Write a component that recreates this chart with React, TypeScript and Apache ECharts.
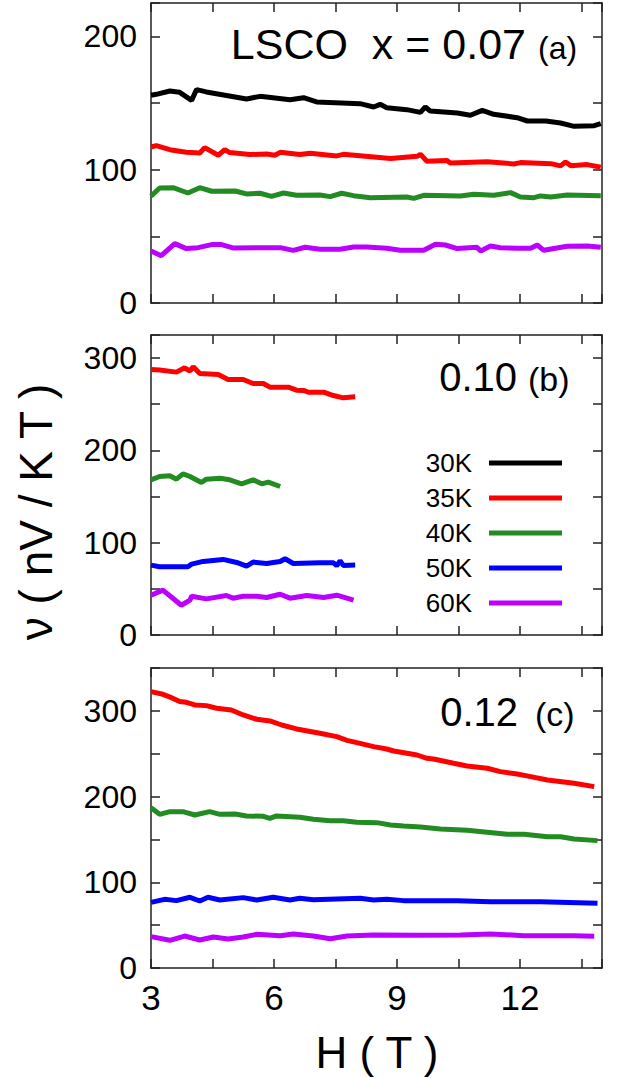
import React, { useEffect, useRef } from "react";
import * as echarts from "echarts";

const FONT = '"Liberation Sans", Arial, Helvetica, sans-serif';

const seriesNames = ["30K", "35K", "40K", "50K", "60K"];
const seriesColors = ["#000000", "#ff0000", "#228b22", "#0000ff", "#bb00ff"];

const panelLabels = ["LSCO  x = 0.07", "0.10", "0.12"];
const panelTags = ["(a)", "(b)", "(c)"];
const yMaxes = [225, 325, 350];
const xTickLabels = [3, 6, 9, 12];

// Panel (a) x = 0.07
const a30H = [3.0, 3.13, 3.46, 3.7, 3.99, 4.11, 4.35, 5.33, 5.66, 6.39, 6.72, 7.04, 8.1, 8.43, 8.59, 8.75, 9.24, 9.57, 9.69, 9.81, 10.47, 10.79, 11.08, 11.36, 11.93, 12.18, 12.63, 12.99, 13.32, 13.81, 13.97];
const a30V = [155.8, 156.5, 159, 158, 152, 160, 158.3, 153, 155, 152.5, 154, 150.8, 149.5, 147, 149, 146.5, 145, 143, 147, 144, 142.5, 140.8, 144.5, 141.5, 139, 136.5, 136.5, 135, 132.5, 133, 134.5];
const a35H = [3.0, 3.13, 3.46, 3.86, 4.19, 4.31, 4.64, 4.8, 4.92, 5.41, 5.82, 6.02, 6.15, 6.63, 6.88, 7.53, 7.69, 8.84, 9.49, 9.57, 9.73, 10.22, 10.3, 11.2, 11.85, 12.01, 12.75, 12.99, 13.11, 13.24, 13.64, 13.97];
const a35V = [117, 118, 115, 113, 112.5, 116.5, 110.8, 115, 112.8, 111.3, 111.8, 110.8, 113, 111.3, 112.3, 110.3, 111.5, 108.3, 110, 111.5, 106.3, 106.8, 105, 106, 104.3, 105.3, 104.5, 102.8, 105.8, 103, 103.8, 101.8];
const a40H = [3.0, 3.21, 3.54, 3.9, 4.19, 4.48, 5.05, 5.33, 5.66, 5.94, 6.23, 6.55, 7.12, 7.37, 7.65, 7.94, 8.35, 9.24, 9.41, 9.65, 10.55, 10.87, 11.36, 11.77, 12.01, 12.34, 12.5, 12.75, 13.15, 13.97];
const a40V = [80, 86.3, 86.5, 82.5, 86.5, 83.8, 84, 81.8, 82.3, 80, 82.5, 80.8, 81, 79.8, 82.3, 80.5, 79, 79.5, 78.5, 80.8, 80.3, 81.5, 80.8, 82.8, 79.5, 79, 80.3, 79.5, 81, 80.5];
const a60H = [3.0, 3.25, 3.58, 3.86, 4.15, 4.48, 4.72, 5.0, 6.15, 6.47, 6.76, 7.12, 7.61, 7.94, 8.26, 8.75, 9.08, 9.65, 9.94, 10.18, 10.47, 10.95, 11.04, 11.28, 11.52, 11.93, 12.26, 12.42, 12.58, 13.15, 13.64, 13.97];
const a60V = [39, 35.5, 44.5, 40.8, 41.5, 43.8, 43.8, 41.3, 41.5, 39.5, 41.8, 40.3, 40.3, 42, 42, 41, 39.5, 39.5, 44, 43.5, 40.8, 41.8, 39, 42.8, 41.5, 41, 41, 43.5, 39.5, 42.5, 42.8, 41.8];

// Panel (b) x = 0.10
const b35H = [3.0, 3.21, 3.62, 3.82, 3.95, 4.03, 4.19, 4.64, 4.88, 5.25, 5.49, 5.74, 5.9, 6.35, 6.55, 6.72, 6.84, 7.21, 7.45, 7.69, 7.98];
const b35V = [287.7, 287, 284.8, 289.5, 286, 290.6, 283.3, 282.2, 276.8, 276.8, 272.5, 272.5, 268.5, 268.5, 265.2, 264.9, 263, 263, 259.4, 256.9, 258];
const b40H = [3.0, 3.21, 3.46, 3.62, 3.78, 3.95, 4.23, 4.35, 4.68, 4.92, 5.21, 5.49, 5.7, 5.86, 6.15];
const b40V = [168, 171.7, 172.5, 168.8, 174.6, 171.7, 165.2, 168.8, 169.9, 168.1, 163.8, 168.1, 163.8, 165.6, 160.9];
const b50H = [3.0, 3.21, 3.62, 3.9, 3.99, 4.27, 4.76, 5.09, 5.33, 5.49, 5.82, 6.15, 6.27, 6.47, 7.12, 7.45, 7.53, 7.61, 7.69, 7.98];
const b50V = [75.7, 73.9, 73.9, 73.9, 76.8, 79.7, 81.9, 78.6, 74.6, 79, 77.5, 79.7, 82.6, 77.5, 78.3, 78.3, 75, 80.4, 75.4, 75.7];
const b60H = [3.0, 3.29, 3.54, 3.74, 3.95, 3.99, 4.35, 4.84, 5.0, 5.25, 5.58, 5.82, 6.15, 6.39, 6.8, 7.21, 7.53, 7.94];
const b60V = [43.1, 48.6, 39.5, 32.2, 37.7, 42, 39.1, 42.8, 39.9, 42, 42, 40.6, 44.2, 39.9, 42.8, 40.6, 43.1, 37.7];

// Panel (c) x = 0.12
const c35H = [3.0, 3.29, 3.5, 3.7, 3.86, 4.07, 4.35, 4.6, 4.96, 5.25, 5.58, 5.9, 6.19, 6.55, 7.12, 7.53, 7.78, 8.1, 8.43, 8.75, 8.92, 9.49, 9.73, 9.89, 10.38, 10.71, 11.2, 11.52, 11.93, 12.26, 12.67, 13.32, 13.81];
const c35V = [322.4, 319.3, 315.4, 310.8, 310, 306.9, 306.1, 303, 301, 295.2, 290.2, 288.2, 283.5, 278.9, 273.8, 269.9, 265.6, 262.1, 258.3, 255.5, 253.2, 248.5, 244.7, 243.9, 238.8, 235.7, 233, 229.1, 226.4, 223.3, 219.4, 215.5, 211.6];
const c40H = [3.0, 3.21, 3.46, 3.78, 4.07, 4.43, 4.68, 5.05, 5.33, 5.74, 5.9, 6.06, 6.63, 6.96, 7.37, 7.69, 8.02, 8.51, 8.84, 9.16, 9.57, 10.06, 10.71, 11.2, 11.69, 12.1, 12.67, 12.99, 13.32, 13.89];
const c40V = [187, 179.3, 182.4, 182.4, 178.5, 182.4, 179.3, 179.7, 177.4, 177, 174.6, 177.4, 175.8, 173.5, 171.9, 171.9, 170, 169.6, 166.9, 165.7, 164.5, 162.2, 160.6, 158.3, 156, 156, 153.2, 153.2, 150.5, 148.6];
const c50H = [3.0, 3.33, 3.62, 3.95, 4.19, 4.39, 4.68, 5.25, 5.58, 5.98, 6.39, 6.63, 6.96, 8.1, 8.43, 8.75, 9.16, 10.47, 11.28, 12.5, 13.89];
const c50V = [76.6, 80.1, 78.6, 82.5, 78.2, 82.5, 79.3, 82.1, 79.3, 82.5, 79.3, 81.3, 79.7, 81.3, 79.3, 80.1, 78.6, 78.6, 77.4, 77.4, 75.5];
const c60H = [3.0, 3.46, 3.82, 4.19, 4.52, 4.88, 5.25, 5.58, 6.15, 6.47, 6.96, 7.37, 7.78, 8.43, 9.49, 10.55, 11.28, 12.1, 13.32, 13.81];
const c60V = [36.6, 32.3, 37.3, 32.7, 36.2, 33.8, 36.2, 39.3, 37.7, 39.7, 37.3, 34.2, 37.3, 38.5, 38.1, 38.5, 39.7, 37.7, 37.7, 36.9];

// [panel, series name, H, values]
const curves: [number, string, number[], number[]][] = [
  [0, "30K", a30H, a30V],
  [0, "35K", a35H, a35V],
  [0, "40K", a40H, a40V],
  [0, "60K", a60H, a60V],
  [1, "35K", b35H, b35V],
  [1, "40K", b40H, b40V],
  [1, "50K", b50H, b50V],
  [1, "60K", b60H, b60V],
  [2, "35K", c35H, c35V],
  [2, "40K", c40H, c40V],
  [2, "50K", c50H, c50V],
  [2, "60K", c60H, c60V],
];

const GRID_LEFT = 151;
const GRID_WIDTH = 451;
const GRID_TOPS = [3, 335, 668];
const GRID_HEIGHT = 300;
const AXIS_COLOR = "#222";

function buildOption() {
  const grid = GRID_TOPS.map((t) => ({ left: GRID_LEFT, top: t, width: GRID_WIDTH, height: GRID_HEIGHT }));
  const tick = { show: true, inside: true, length: 9, lineStyle: { color: AXIS_COLOR, width: 1.5 } };
  const line = { show: true, onZero: false, lineStyle: { color: AXIS_COLOR, width: 1.5 } };
  const xAxis: any[] = [];
  const yAxis: any[] = [];
  [0, 1, 2].forEach((i) => {
    xAxis.push({
      type: "value", gridIndex: i, position: "bottom", min: 3, max: 14, interval: 1.5,
      axisLine: line, axisTick: tick, splitLine: { show: false },
      axisLabel: {
        show: i === 2, fontSize: 35, fontFamily: FONT, color: "#000", margin: 12,
        formatter: (v: number) => (xTickLabels.indexOf(v) >= 0 ? String(v) : ""),
      },
    });
  });
  [0, 1, 2].forEach((i) => {
    xAxis.push({
      type: "value", gridIndex: i, position: "top", min: 3, max: 14, interval: 1.5,
      axisLine: line, axisTick: tick, splitLine: { show: false }, axisLabel: { show: false },
    });
  });
  [0, 1, 2].forEach((i) => {
    yAxis.push({
      type: "value", gridIndex: i, position: "left", min: 0, max: yMaxes[i], interval: 50,
      axisLine: line, axisTick: tick, splitLine: { show: false },
      axisLabel: {
        fontSize: 32, fontFamily: FONT, color: "#000", margin: 14,
        formatter: (v: number) => (v % 100 === 0 ? String(v) : ""),
      },
    });
  });
  [0, 1, 2].forEach((i) => {
    yAxis.push({
      type: "value", gridIndex: i, position: "right", min: 0, max: yMaxes[i], interval: 50,
      axisLine: line, axisTick: tick, splitLine: { show: false }, axisLabel: { show: false },
    });
  });

  const series = curves.map(([p, name, hs, vs]) => {
    const color = seriesColors[seriesNames.indexOf(name)];
    return {
      type: "line", name, xAxisIndex: p, yAxisIndex: p,
      data: hs.map((h, k) => [h, vs[k]]),
      showSymbol: false, symbol: "none",
      lineStyle: { color, width: 5, join: "bevel" },
      itemStyle: { color },
    };
  });

  // title positions (pixel layout)
  const mainRight = [526, 517, 518];
  const tagLeft = [538, 528, 535];
  const baselines = [58.3, 390, 725];
  const mainSize = [43, 40, 40];
  const tagSize = [32, 34, 34];
  const graphic: any[] = [];
  [0, 1, 2].forEach((i) => {
    graphic.push({
      type: "text", x: mainRight[i], y: baselines[i] - 0.33 * mainSize[i],
      style: { text: panelLabels[i], fontSize: mainSize[i], fontFamily: FONT, fill: "#000", textAlign: "right", textVerticalAlign: "middle" },
    });
    graphic.push({
      type: "text", x: tagLeft[i], y: baselines[i] - 0.33 * tagSize[i],
      style: { text: panelTags[i], fontSize: tagSize[i], fontFamily: FONT, fill: "#000", textAlign: "left", textVerticalAlign: "middle" },
    });
  });
  graphic.push({
    type: "text", x: 36, y: 512, rotation: Math.PI / 2,
    style: { text: "ν ( nV / K T )", fontSize: 46, fontFamily: FONT, fill: "#000", textAlign: "center", textVerticalAlign: "middle" },
  });
  graphic.push({
    type: "text", x: 377, y: 1052,
    style: { text: "H ( T )", fontSize: 44, fontFamily: FONT, fill: "#000", textAlign: "center", textVerticalAlign: "middle" },
  });

  return {
    animation: false,
    backgroundColor: "#fff",
    grid, xAxis, yAxis, series, graphic,
    legend: {
      data: seriesNames, orient: "vertical", right: 51, top: 445, align: "right",
      icon: "rect", itemWidth: 73, itemHeight: 5, itemGap: 9, selectedMode: false,
      textStyle: { fontSize: 26, fontFamily: FONT, color: "#000", lineHeight: 26, padding: [0, 12, 0, 0] },
    },
  };
}

export default function App() {
  const ref = useRef<HTMLDivElement>(null);
  useEffect(() => {
    if (!ref.current) return;
    const chart = echarts.init(ref.current, null, { renderer: "svg" });
    chart.setOption(buildOption() as any);
    return () => chart.dispose();
  }, []);
  return <div ref={ref} style={{ position: "absolute", left: 0, top: 0, width: 618, height: 1078 }} />;
}
